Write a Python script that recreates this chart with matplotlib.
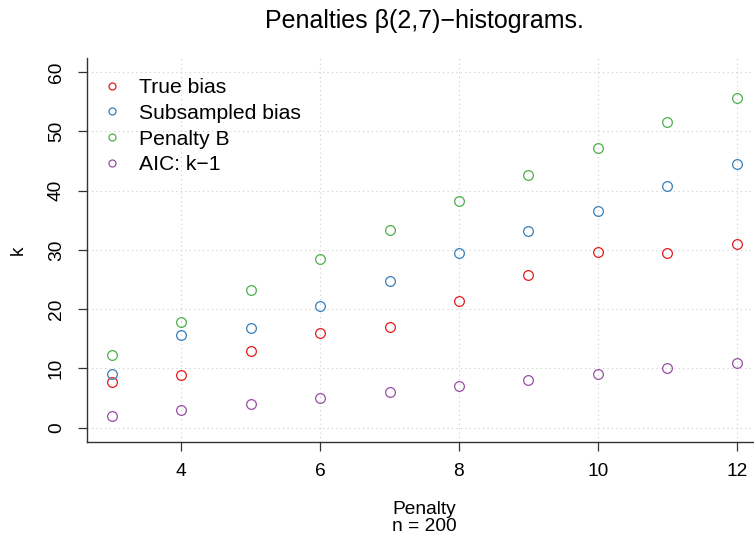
import matplotlib
matplotlib.use("Agg")
import matplotlib.pyplot as plt

penalty = [3, 4, 5, 6, 7, 8, 9, 10, 11, 12]
true_bias = [7.8, 8.85, 13.0, 16.0, 17.0, 21.4, 25.7, 29.7, 29.4, 31.0]
subsampled_bias = [9.1, 15.7, 16.9, 20.6, 24.8, 29.4, 33.2, 36.6, 40.7, 44.5]
penalty_b = [12.2, 17.8, 23.2, 28.4, 33.3, 38.2, 42.7, 47.2, 51.5, 55.7]
aic = [2, 3, 4, 5, 6, 7, 8, 9, 10, 11]

series = [
    ("True bias", true_bias, "#E41A1C"),
    ("Subsampled bias", subsampled_bias, "#377EB8"),
    ("Penalty B", penalty_b, "#4DAF4A"),
    ("AIC: k\u22121", aic, "#984EA3"),
]

xticks = [4, 6, 8, 10, 12]
yticks = [0, 10, 20, 30, 40, 50, 60]

plt.rcParams['font.family'] = ['Liberation Sans', 'DejaVu Sans']

W, H = 754, 541
fig = plt.figure(figsize=(W / 100, H / 100), dpi=100)
ax = fig.add_axes([86.5 / W, 99 / H, 675.5 / W, 384.2 / H])

for label, vals, col in series:
    ax.plot(penalty, vals, linestyle='none', marker='o', markersize=7,
            markerfacecolor='none', markeredgecolor=col, markeredgewidth=0.9,
            label=label)

ax.set_xlim(2.64, 12.36)
ax.set_ylim(-2.4, 62.4)
ax.set_xticks(xticks)
ax.set_yticks(yticks)
ax.set_xticklabels([str(t) for t in xticks], fontsize=13.8)
ax.set_yticklabels([str(t) for t in yticks], fontsize=13.8, rotation=90, va='center')
ax.tick_params(axis='both', direction='out', length=6.5, width=0.9, color='#333333')
ax.tick_params(axis='y', pad=9)
ax.tick_params(axis='x', pad=8.5)
ax.grid(True, linestyle=(0, (1, 3)), color='#cccccc', linewidth=0.8)
ax.set_axisbelow(True)

for s in ['top', 'right']:
    ax.spines[s].set_visible(False)
for s in ['left', 'bottom']:
    ax.spines[s].set_linewidth(1.0)
    ax.spines[s].set_color('#333333')

leg = ax.legend(loc='upper left', frameon=False, fontsize=15.2, handletextpad=0.78,
                labelspacing=0.32, borderaxespad=0, borderpad=0, handlelength=1.0,
                markerscale=0.72,
                bbox_to_anchor=(101.45 / W, 1 - 78 / H), bbox_transform=fig.transFigure)

fig.text(424 / W, 1 - 28 / H, "Penalties \u03b2(2,7)\u2212histograms.", ha='center', va='baseline', fontsize=18)
fig.text(424 / W, 1 - 514 / H, "Penalty", ha='center', va='baseline', fontsize=13.8)
fig.text(424 / W, 1 - 531 / H, "n = 200", ha='center', va='baseline', fontsize=13.8)
fig.text(18 / W, 1 - 250 / H, "k", ha='center', va='center', fontsize=13.8, rotation=90)

fig.savefig("out.png", dpi=100)
